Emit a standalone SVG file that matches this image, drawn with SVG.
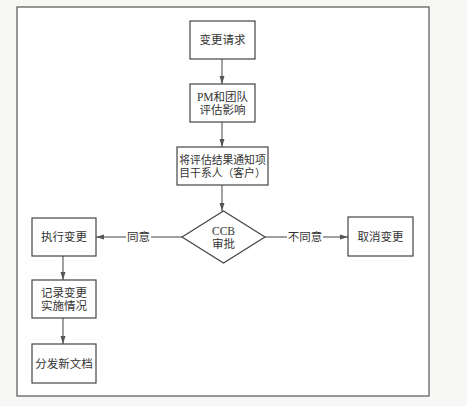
<svg xmlns="http://www.w3.org/2000/svg" width="467" height="406" viewBox="0 0 467 406">
<defs>
<marker id="arr" markerWidth="8" markerHeight="6" refX="8" refY="3" orient="auto" markerUnits="userSpaceOnUse">
<path d="M0,0.5 L8,3 L0,5.5 Z" fill="#555"/>
</marker>
<style>
.box{fill:#fff;stroke:#444;stroke-width:1.2}
.ln{fill:none;stroke:#555;stroke-width:1.1}
.t{font-family:"Liberation Serif","Noto Sans CJK SC",serif;font-size:11.5px;fill:#333;text-anchor:middle;dominant-baseline:central}
.s{font-size:10.8px}
</style>
</defs>
<rect x="0" y="0" width="467" height="406" fill="#f7f7f5"/>
<rect x="17" y="7" width="412" height="389" fill="#fff" stroke="#555" stroke-width="1.2"/>
<g id="connectors">
<line class="ln" x1="222" y1="59" x2="222" y2="84" marker-end="url(#arr)"/>
<line class="ln" x1="222" y1="122" x2="222" y2="147" marker-end="url(#arr)"/>
<line class="ln" x1="222" y1="185" x2="222" y2="211" marker-end="url(#arr)"/>
<line class="ln" x1="182" y1="237" x2="151" y2="237"/>
<line class="ln" x1="126" y1="237" x2="96" y2="237" marker-end="url(#arr)"/>
<text class="t" x="138.5" y="237">同意</text>
<line class="ln" x1="265" y1="237" x2="287" y2="237"/>
<line class="ln" x1="323" y1="237" x2="348" y2="237" marker-end="url(#arr)"/>
<text class="t" x="305" y="237">不同意</text>
<line class="ln" x1="63" y1="256" x2="63" y2="280" marker-end="url(#arr)"/>
<line class="ln" x1="63" y1="318" x2="63" y2="344" marker-end="url(#arr)"/>
</g>
<g id="n1">
<rect class="box" x="190" y="21" width="65" height="38"/>
<text class="t" x="222.5" y="40">变更请求</text>
</g>
<g id="n2">
<rect class="box" x="190" y="84" width="65" height="38"/>
<text class="t" x="222.5" y="97">PM和团队</text>
<text class="t" x="222.5" y="110">评估影响</text>
</g>
<g id="n3">
<rect class="box" x="177" y="147" width="91" height="38"/>
<text class="t s" x="222.5" y="160">将评估结果通知项</text>
<text class="t s" x="222.5" y="173">目干系人（客户）</text>
</g>
<g id="n4">
<polygon class="box" points="182,237 223.5,211 265,237 223.5,263"/>
<text class="t" x="223.5" y="231">CCB</text>
<text class="t" x="223.5" y="244">审批</text>
</g>
<g id="n5">
<rect class="box" x="32" y="218" width="64" height="38"/>
<text class="t" x="64" y="237">执行变更</text>
</g>
<g id="n6">
<rect class="box" x="348" y="217" width="65" height="39"/>
<text class="t" x="380.5" y="236.5">取消变更</text>
</g>
<g id="n7">
<rect class="box" x="32" y="280" width="64" height="38"/>
<text class="t" x="64" y="293">记录变更</text>
<text class="t" x="64" y="306">实施情况</text>
</g>
<g id="n8">
<rect class="box" x="32" y="344" width="64" height="39"/>
<text class="t" x="64" y="363.5">分发新文档</text>
</g>
</svg>
